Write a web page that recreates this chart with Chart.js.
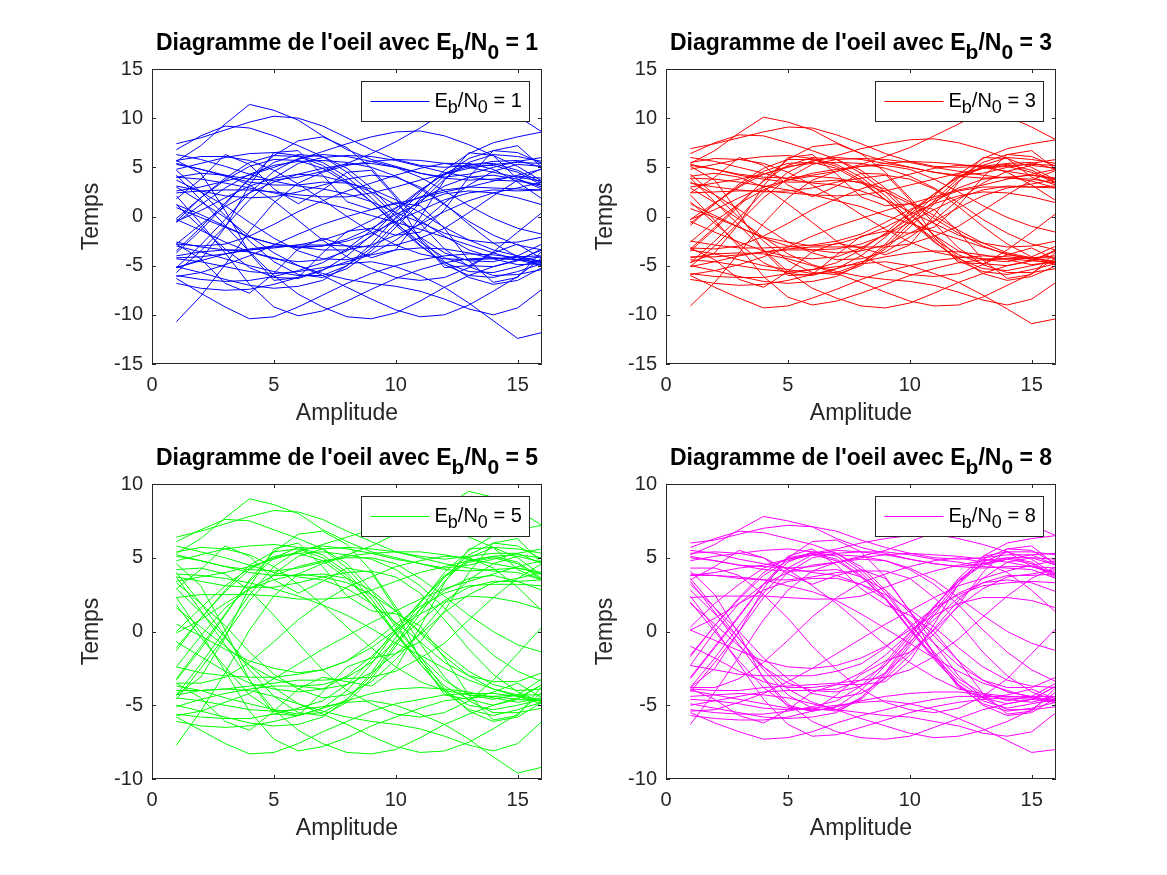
<!DOCTYPE html>
<html>
<head>
<meta charset="utf-8">
<title>Diagramme de l'oeil</title>
<script src="https://cdn.jsdelivr.net/npm/chart.js@4.4.1/dist/chart.umd.min.js"></script>
<style>
  html, body { margin: 0; padding: 0; background: #fff; }
  #figure { position: relative; width: 1167px; height: 875px; overflow: hidden; background: #fff; }
  #figure canvas { position: absolute; }
</style>
</head>
<body>
<div id="figure">
  <canvas id="plotEb1" width="583" height="437" style="left:0px;top:0px"></canvas>
  <canvas id="plotEb3" width="584" height="437" style="left:583px;top:0px"></canvas>
  <canvas id="plotEb5" width="583" height="438" style="left:0px;top:437px"></canvas>
  <canvas id="plotEb8" width="584" height="438" style="left:583px;top:437px"></canvas>
</div>
<script>
// sample index along one eye trace (x axis)
const timeSamples = [1, 2, 3, 4, 5, 6, 7, 8, 9, 10, 11, 12, 13, 14, 15, 16];
const xTicks = [0, 5, 10, 15];
const yTicksTop = [-15, -10, -5, 0, 5, 10, 15];
const yTicksBottom = [-10, -5, 0, 5, 10];
const ebn0Values = [1, 3, 5, 8];

// one row per trace
const tracesEb1 = [
  [5.6,7.2,9.4,11.4,10.8,9.8,8.2,6.8,5.8,5.1,4.4,4.0,4.3,5.0,5.6,6.0],
  [-3.7,-1.4,1.2,3.9,6.2,7.7,8.1,7.0,4.9,2.1,-0.7,-3.3,-5.1,-6.0,-5.9,-5.4],
  [4.7,2.5,0.1,-2.5,-4.6,-5.9,-6.2,-5.3,-3.5,-1.1,1.4,3.8,5.5,6.3,6.1,5.6],
  [-4.3,-4.6,-5.1,-5.6,-5.8,-5.6,-5.2,-4.8,-4.6,-5.1,-6.0,-7.2,-8.8,-10.6,-12.4,-11.8],
  [-5.2,-2.9,-0.3,2.4,4.6,5.9,6.3,6.1,5.6,5.0,4.4,3.9,3.7,3.8,4.1,3.9],
  [6.8,8.2,9.2,9.0,8.2,7.2,6.1,4.5,2.4,0.0,-2.1,-3.7,-4.5,-4.6,-4.0,-2.8],
  [-5.1,-5.7,-6.4,-7.0,-7.3,-7.1,-6.5,-5.0,-2.8,-0.1,2.4,4.7,6.4,7.5,8.1,8.6],
  [4.2,1.7,-0.9,-3.6,-6.0,-7.9,-9.2,-10.2,-10.4,-9.8,-8.6,-7.2,-6.0,-5.1,-4.4,-3.4],
  [-10.7,-8.1,-4.9,-1.5,1.4,3.4,4.5,5.2,5.6,5.8,5.7,5.4,5.0,4.5,4.0,3.6],
  [4.8,5.4,6.0,6.4,6.5,6.2,5.5,4.0,1.9,-0.6,-2.9,-4.9,-6.0,-6.2,-5.6,-4.8],
  [-3.0,-3.6,-4.3,-5.0,-5.6,-6.0,-6.0,-5.0,-3.2,-0.7,1.8,4.2,5.9,6.7,6.5,5.4],
  [1.2,-1.1,-3.3,-5.2,-6.2,-6.3,-5.5,-4.0,-1.9,0.5,2.6,4.4,5.3,5.4,4.7,3.4],
  [-4.0,-3.6,-3.4,-3.6,-4.2,-5.0,-6.0,-7.2,-8.4,-9.5,-10.2,-10.0,-9.0,-7.6,-6.1,-4.2],
  [2.6,3.0,3.6,4.2,5.0,5.8,6.6,7.4,8.1,8.6,8.7,8.2,7.3,6.2,5.1,3.6],
  [-0.2,1.9,3.7,5.1,5.8,5.7,4.9,3.4,1.5,-0.7,-2.6,-4.2,-5.0,-5.1,-4.5,-3.3],
  [2.1,-0.7,-3.7,-6.9,-9.2,-10.1,-9.6,-8.6,-7.4,-6.3,-5.4,-4.7,-4.3,-4.2,-4.4,-4.7],
  [5.3,4.8,4.2,3.8,3.7,4.0,4.6,5.4,6.4,7.6,9.0,10.6,12.2,11.6,10.2,8.6],
  [-6.3,-7.8,-9.2,-10.4,-10.2,-9.2,-8.0,-6.8,-5.8,-5.0,-4.4,-4.0,-3.8,-3.9,-4.2,-4.6],
  [0.9,-0.1,-1.1,-2.1,-2.8,-3.1,-3.0,-2.5,-1.7,-0.5,0.6,1.7,2.4,2.7,2.6,2.7],
  [-0.5,1.9,3.9,5.5,6.2,6.1,5.2,3.6,1.5,-0.9,-3.0,-4.7,-5.6,-5.7,-5.1,-4.4],
  [-5.2,-4.5,-3.8,-3.3,-3.0,-3.1,-3.4,-3.4,-2.9,-1.9,-0.8,0.5,1.6,2.4,2.9,3.5],
  [6.3,5.8,5.1,4.3,3.6,3.1,2.8,2.3,1.5,0.4,-0.6,-1.7,-2.4,-2.7,-2.6,-2.1],
  [-5.7,-3.5,-1.0,1.7,3.9,5.4,6.0,6.2,6.1,5.7,5.1,4.5,4.0,3.7,3.6,3.2],
  [3.0,1.5,-0.1,-2.0,-3.7,-5.0,-5.8,-6.4,-6.8,-7.1,-7.6,-8.4,-9.4,-10.0,-9.3,-7.4],
  [-6.0,-6.4,-6.6,-6.5,-6.1,-5.5,-4.7,-3.3,-1.4,0.8,2.7,4.3,5.1,5.2,4.5,3.2],
  [7.4,8.0,8.8,9.6,10.2,10.0,9.2,8.0,6.8,5.8,5.2,5.0,5.2,5.6,5.7,5.0],
  [-3.5,-1.1,1.4,3.8,5.5,6.3,6.1,4.9,2.9,0.3,-2.2,-4.6,-6.2,-6.9,-6.5,-5.2],
  [3.7,2.5,1.1,-0.6,-2.2,-3.5,-4.3,-4.4,-3.8,-2.4,-0.7,1.4,3.2,4.6,5.3,5.1],
  [-6.8,-7.3,-7.5,-7.4,-6.9,-6.2,-5.4,-4.6,-3.9,-3.4,-3.2,-3.3,-3.7,-4.3,-4.9,-4.8],
  [5.4,4.8,4.1,3.5,3.2,3.2,3.5,3.4,2.8,1.7,0.4,-1.1,-2.4,-3.4,-4.0,-4.6],
  [2.4,2.6,2.7,2.7,2.5,2.2,2.0,2.0,2.4,3.0,3.7,4.3,4.9,5.3,5.5,5.4],
  [-2.6,-3.1,-3.4,-3.4,-3.2,-2.9,-2.4,-1.6,-0.4,0.9,2.0,2.7,3.0,2.9,2.8,2.7],
  [-0.5,0.6,1.9,3.1,3.9,4.3,4.1,3.5,2.5,1.2,-0.4,-2.0,-3.4,-4.2,-4.4,-4.1],
  [-0.3,-1.4,-2.6,-3.6,-4.3,-4.6,-4.4,-3.5,-2.0,-0.2,1.6,3.1,4.0,4.2,3.8,3.0],
  [3.1,2.6,2.1,1.9,2.0,2.5,3.2,3.8,4.2,4.0,3.0,1.3,-0.8,-2.7,-4.1,-5.0],
  [-2.8,-0.8,1.0,2.4,3.5,4.3,4.9,5.3,5.4,5.0,4.0,2.6,1.1,-0.2,-1.2,-1.8],
  [-2.8,-3.0,-2.8,-2.0,-0.8,0.5,1.6,2.6,3.4,4.2,4.9,5.4,5.4,4.8,3.5,1.8],
  [4.0,4.4,4.2,3.2,1.6,-0.4,-2.4,-4.1,-5.3,-6.2,-6.5,-6.2,-5.2,-3.6,-1.6,0.4],
  [1.2,0.2,-1.0,-2.1,-2.8,-3.2,-3.0,-2.3,-1.2,0.2,1.4,2.3,2.6,2.4,1.9,1.2],
  [4.0,3.8,3.4,2.9,2.4,1.9,1.4,0.8,0.1,-0.6,-1.3,-2.1,-2.9,-3.7,-4.4,-5.0],
  [-4.2,-4.1,-3.8,-3.4,-3.1,-2.9,-2.9,-3.0,-3.1,-2.9,-2.2,-1.2,0.4,2.1,3.7,4.9],
  [5.7,6.1,6.1,5.7,4.7,3.3,1.7,0.0,-1.6,-2.9,-3.8,-4.3,-4.4,-4.3,-4.1,-4.0],
  [-6.1,-5.7,-4.9,-4.0,-2.9,-1.8,-0.8,0.0,0.7,1.3,1.9,2.5,3.0,3.6,4.2,4.8],
  [-0.6,1.2,2.9,4.3,5.2,5.6,5.7,5.5,5.0,4.1,2.8,1.2,-0.5,-1.9,-2.9,-3.4],
  [1.8,3.8,6.3,5.3,2.8,1.3,2.7,4.5,4.7,1.9,-2.4,-5.2,-5.0,-3.7,-2.8,-4.3],
  [-2.8,-4.3,-6.8,-7.8,-5.8,-3.3,-2.2,-3.0,-4.2,-3.4,-0.1,3.7,6.5,6.2,3.8,2.8],
  [-5.2,-4.4,-1.1,3.2,6.5,6.7,4.2,1.5,0.7,1.4,1.1,-1.2,-4.5,-6.7,-6.2,-3.5],
  [5.7,4.4,0.6,-3.7,-6.5,-6.2,-3.7,-1.5,-1.2,-1.9,-1.6,0.7,4.0,6.7,7.2,5.0]
];

const tracesEb3 = [
  [5.4,6.7,8.5,10.1,9.6,8.8,7.5,6.4,5.6,5.0,4.5,4.2,4.4,5.0,5.4,5.8],
  [-3.5,-1.3,1.1,3.7,5.8,7.1,7.4,6.4,4.5,1.9,-0.7,-3.2,-4.9,-5.7,-5.7,-5.3],
  [4.3,2.2,-0.1,-2.5,-4.5,-5.7,-5.9,-5.0,-3.3,-1.1,1.3,3.6,5.2,6.0,5.8,5.4],
  [-4.4,-4.6,-5.0,-5.4,-5.6,-5.4,-5.1,-4.8,-4.6,-5.0,-5.8,-6.7,-8.0,-9.4,-10.9,-10.4],
  [-4.7,-2.5,-0.1,2.5,4.5,5.7,6.0,5.8,5.4,5.0,4.5,4.1,3.9,4.0,4.2,3.9],
  [6.4,7.5,8.3,8.2,7.5,6.7,5.8,4.4,2.5,0.2,-1.9,-3.5,-4.4,-4.6,-4.1,-3.0],
  [-5.0,-5.5,-6.1,-6.6,-6.8,-6.6,-6.1,-4.8,-2.8,-0.3,2.1,4.3,5.9,6.9,7.4,7.8],
  [3.9,1.5,-0.9,-3.4,-5.6,-7.3,-8.3,-9.1,-9.3,-8.8,-7.8,-6.7,-5.8,-5.0,-4.5,-3.5],
  [-9.1,-6.7,-3.7,-0.7,1.9,3.7,4.6,5.1,5.4,5.6,5.5,5.3,5.0,4.6,4.2,3.8],
  [4.8,5.3,5.8,6.1,6.2,5.9,5.3,4.0,2.1,-0.3,-2.5,-4.5,-5.6,-5.9,-5.4,-4.8],
  [-3.4,-3.8,-4.4,-5.0,-5.4,-5.8,-5.7,-4.8,-3.1,-0.7,1.6,3.9,5.5,6.3,6.1,5.1],
  [1.5,-0.7,-2.8,-4.7,-5.8,-6.0,-5.3,-4.0,-2.1,0.2,2.3,4.1,5.0,5.3,4.7,3.5],
  [-4.2,-3.8,-3.7,-3.8,-4.3,-5.0,-5.8,-6.7,-7.7,-8.6,-9.1,-9.0,-8.2,-7.0,-5.8,-4.2],
  [3.0,3.4,3.8,4.3,5.0,5.6,6.2,6.9,7.4,7.8,7.9,7.5,6.8,5.9,5.0,3.7],
  [-0.7,1.3,3.1,4.6,5.4,5.5,4.9,3.5,1.7,-0.4,-2.3,-3.9,-4.8,-5.0,-4.5,-3.4],
  [2.2,-0.4,-3.1,-6.1,-8.2,-9.0,-8.6,-7.8,-6.9,-6.0,-5.3,-4.7,-4.4,-4.3,-4.5,-4.7],
  [5.2,4.8,4.3,4.0,3.9,4.2,4.6,5.3,6.1,7.0,8.2,9.4,10.7,10.2,9.1,7.8],
  [-6.0,-7.2,-8.3,-9.3,-9.1,-8.3,-7.4,-6.4,-5.6,-5.0,-4.5,-4.2,-4.0,-4.1,-4.3,-4.6],
  [1.3,0.1,-1.1,-2.2,-3.0,-3.4,-3.3,-2.8,-1.9,-0.6,0.7,1.9,2.7,3.1,3.0,3.1],
  [-0.9,1.3,3.3,4.9,5.8,5.8,5.1,3.7,1.7,-0.5,-2.6,-4.3,-5.3,-5.5,-5.0,-4.5],
  [-5.1,-4.6,-4.0,-3.6,-3.4,-3.4,-3.7,-3.5,-2.9,-1.7,-0.5,0.9,2.1,2.9,3.3,3.8],
  [6.0,5.6,5.0,4.4,3.8,3.4,3.2,2.6,1.7,0.5,-0.7,-1.9,-2.7,-3.1,-3.0,-2.5],
  [-5.1,-3.0,-0.6,1.9,3.9,5.3,5.8,5.9,5.8,5.5,5.0,4.6,4.2,3.9,3.8,3.4],
  [2.9,1.4,-0.3,-2.1,-3.8,-4.9,-5.6,-6.1,-6.4,-6.6,-7.0,-7.7,-8.5,-9.0,-8.4,-6.7],
  [-5.8,-6.1,-6.2,-6.2,-5.8,-5.4,-4.7,-3.4,-1.7,0.5,2.3,4.0,4.9,5.1,4.5,3.4],
  [6.9,7.4,8.0,8.6,9.1,9.0,8.3,7.4,6.4,5.6,5.1,5.0,5.1,5.4,5.5,4.8],
  [-3.3,-1.1,1.3,3.6,5.2,6.0,5.8,4.7,2.9,0.4,-1.9,-4.2,-5.8,-6.5,-6.1,-5.0],
  [3.5,2.2,0.7,-1.0,-2.6,-3.7,-4.4,-4.3,-3.6,-2.1,-0.4,1.7,3.4,4.6,5.2,4.9],
  [-6.4,-6.8,-7.0,-6.9,-6.5,-5.9,-5.3,-4.6,-4.1,-3.7,-3.5,-3.6,-3.9,-4.4,-4.9,-4.6],
  [5.3,4.8,4.2,3.8,3.5,3.5,3.7,3.5,2.8,1.5,0.1,-1.4,-2.7,-3.7,-4.2,-4.6],
  [2.4,2.5,2.6,2.6,2.4,2.2,2.1,2.2,2.6,3.2,3.8,4.4,4.9,5.2,5.3,5.2],
  [-2.5,-2.9,-3.2,-3.2,-3.1,-2.9,-2.5,-1.8,-0.6,0.7,1.8,2.6,3.0,3.0,3.0,2.9],
  [-0.3,0.7,1.9,3.0,3.7,4.1,3.9,3.4,2.5,1.3,-0.2,-1.7,-3.0,-3.9,-4.2,-4.0],
  [-0.5,-1.6,-2.6,-3.5,-4.1,-4.3,-4.1,-3.2,-1.8,-0.2,1.5,2.9,3.8,4.0,3.6,2.9],
  [3.4,3.0,2.7,2.5,2.6,2.9,3.5,3.9,4.2,3.8,2.8,1.0,-1.0,-2.8,-4.1,-4.9],
  [-2.6,-0.5,1.3,2.7,3.7,4.4,4.8,5.1,5.2,4.8,3.8,2.5,1.1,-0.1,-1.0,-1.6],
  [-3.2,-3.3,-3.0,-2.0,-0.7,0.7,1.8,2.8,3.6,4.3,4.9,5.2,5.2,4.5,3.2,1.6],
  [4.1,4.4,4.0,3.0,1.3,-0.6,-2.5,-4.0,-5.1,-5.9,-6.1,-5.8,-4.9,-3.4,-1.6,0.3],
  [0.8,-0.1,-1.1,-2.1,-2.6,-3.0,-2.8,-2.1,-1.1,0.2,1.3,2.1,2.5,2.4,2.0,1.4],
  [3.9,3.8,3.5,3.1,2.7,2.2,1.6,1.0,0.1,-0.7,-1.5,-2.3,-3.1,-3.8,-4.4,-4.9],
  [-4.1,-4.1,-3.9,-3.6,-3.3,-3.1,-3.1,-3.1,-3.1,-2.8,-2.0,-1.0,0.6,2.2,3.7,4.7],
  [5.5,5.9,5.8,5.4,4.5,3.2,1.8,0.2,-1.3,-2.6,-3.6,-4.1,-4.3,-4.3,-4.2,-4.2],
  [-5.9,-5.5,-4.9,-4.1,-3.1,-2.0,-1.0,-0.2,0.6,1.3,2.0,2.7,3.2,3.8,4.3,4.8],
  [-0.3,1.4,3.0,4.3,5.1,5.4,5.5,5.4,4.9,4.1,2.9,1.4,-0.3,-1.7,-2.8,-3.4],
  [2.4,4.0,6.0,5.2,3.2,2.0,3.1,4.4,4.3,1.7,-2.1,-4.7,-4.8,-3.9,-3.2,-4.4],
  [-3.2,-4.4,-6.4,-7.2,-5.6,-3.6,-2.7,-3.2,-3.9,-2.9,0.1,3.5,6.0,5.9,4.0,3.2],
  [-4.7,-3.7,-0.7,3.1,6.0,6.3,4.3,2.0,1.1,1.3,0.7,-1.5,-4.4,-6.3,-5.9,-3.6],
  [5.1,3.7,0.3,-3.5,-6.0,-5.9,-3.9,-2.0,-1.5,-1.7,-1.1,1.1,4.0,6.3,6.7,4.8]
];

const tracesEb5 = [
  [5.3,6.3,7.7,9.0,8.6,8.0,6.9,6.1,5.4,5.0,4.6,4.3,4.5,4.9,5.3,5.6],
  [-3.3,-1.2,1.1,3.5,5.4,6.6,6.8,5.9,4.1,1.7,-0.8,-3.1,-4.7,-5.5,-5.5,-5.2],
  [4.0,1.9,-0.3,-2.6,-4.4,-5.5,-5.7,-4.8,-3.2,-1.0,1.2,3.4,5.0,5.7,5.6,5.3],
  [-4.5,-4.7,-5.0,-5.3,-5.4,-5.3,-5.1,-4.8,-4.7,-5.0,-5.6,-6.3,-7.3,-8.5,-9.6,-9.2],
  [-4.3,-2.2,0.1,2.5,4.4,5.5,5.8,5.6,5.3,4.9,4.6,4.2,4.1,4.2,4.3,3.9],
  [6.1,6.9,7.6,7.5,6.9,6.3,5.6,4.3,2.5,0.3,-1.7,-3.3,-4.3,-4.6,-4.3,-3.2],
  [-5.0,-5.4,-5.8,-6.2,-6.4,-6.3,-5.8,-4.6,-2.8,-0.4,1.9,4.0,5.5,6.5,6.9,7.2],
  [3.7,1.4,-0.9,-3.3,-5.3,-6.7,-7.6,-8.2,-8.3,-8.0,-7.2,-6.3,-5.6,-5.0,-4.5,-3.6],
  [-7.7,-5.4,-2.8,0.1,2.4,3.9,4.6,5.1,5.3,5.4,5.4,5.2,4.9,4.6,4.3,4.0],
  [4.8,5.2,5.6,5.8,5.9,5.7,5.2,4.0,2.2,-0.1,-2.2,-4.1,-5.3,-5.7,-5.3,-4.8],
  [-3.7,-4.0,-4.5,-4.9,-5.3,-5.6,-5.5,-4.6,-3.0,-0.8,1.5,3.7,5.2,6.0,5.8,4.9],
  [1.8,-0.4,-2.4,-4.3,-5.4,-5.7,-5.2,-4.0,-2.2,0.0,2.0,3.8,4.8,5.1,4.7,3.6],
  [-4.3,-4.0,-3.9,-4.0,-4.4,-4.9,-5.6,-6.3,-7.1,-7.8,-8.2,-8.1,-7.5,-6.6,-5.6,-4.1],
  [3.4,3.7,4.0,4.4,4.9,5.4,5.9,6.4,6.9,7.2,7.3,6.9,6.4,5.7,5.0,3.8],
  [-1.1,0.9,2.7,4.2,5.1,5.3,4.8,3.6,1.9,-0.1,-2.0,-3.7,-4.6,-5.0,-4.6,-3.6],
  [2.3,-0.1,-2.7,-5.4,-7.3,-8.1,-7.8,-7.2,-6.4,-5.8,-5.2,-4.7,-4.5,-4.4,-4.6,-4.7],
  [5.1,4.8,4.4,4.2,4.1,4.3,4.7,5.2,5.8,6.6,7.5,8.5,9.5,9.1,8.2,7.2],
  [-5.8,-6.7,-7.6,-8.3,-8.2,-7.6,-6.8,-6.1,-5.4,-4.9,-4.6,-4.3,-4.2,-4.2,-4.4,-4.7],
  [1.6,0.3,-1.0,-2.3,-3.2,-3.7,-3.6,-3.1,-2.1,-0.7,0.7,2.1,3.0,3.4,3.4,3.5],
  [-1.3,0.9,2.8,4.5,5.4,5.6,5.0,3.8,1.9,-0.2,-2.2,-4.0,-5.0,-5.3,-5.0,-4.6],
  [-5.1,-4.6,-4.2,-3.9,-3.7,-3.7,-3.9,-3.6,-2.8,-1.5,-0.2,1.3,2.5,3.3,3.6,4.0],
  [5.8,5.4,5.0,4.5,4.0,3.7,3.5,2.9,1.9,0.6,-0.7,-2.1,-3.0,-3.4,-3.4,-2.8],
  [-4.6,-2.5,-0.3,2.1,3.9,5.1,5.6,5.7,5.6,5.4,5.0,4.6,4.3,4.1,4.0,3.5],
  [2.9,1.3,-0.4,-2.3,-3.8,-4.9,-5.4,-5.8,-6.1,-6.3,-6.6,-7.1,-7.7,-8.1,-7.6,-6.1],
  [-5.6,-5.8,-5.9,-5.9,-5.6,-5.2,-4.7,-3.6,-1.9,0.2,2.0,3.7,4.7,5.0,4.6,3.5],
  [6.4,6.8,7.3,7.8,8.2,8.1,7.6,6.8,6.1,5.4,5.1,4.9,5.1,5.3,5.3,4.6],
  [-3.2,-1.0,1.2,3.4,5.0,5.7,5.6,4.6,2.8,0.5,-1.7,-3.9,-5.4,-6.1,-5.8,-4.8],
  [3.3,1.9,0.4,-1.4,-2.9,-3.9,-4.5,-4.3,-3.4,-1.9,-0.1,1.9,3.5,4.6,5.1,4.7],
  [-6.1,-6.4,-6.5,-6.4,-6.1,-5.7,-5.2,-4.7,-4.2,-3.9,-3.8,-3.9,-4.1,-4.5,-4.8,-4.5],
  [5.2,4.8,4.4,4.0,3.8,3.8,3.9,3.6,2.8,1.4,-0.1,-1.7,-3.0,-3.9,-4.3,-4.7],
  [2.3,2.5,2.5,2.5,2.4,2.2,2.2,2.3,2.8,3.4,4.0,4.4,4.8,5.1,5.2,5.0],
  [-2.4,-2.8,-3.0,-3.1,-3.1,-2.9,-2.6,-2.0,-0.8,0.5,1.7,2.6,3.1,3.2,3.2,3.1],
  [-0.1,0.8,1.9,2.9,3.5,3.9,3.7,3.3,2.5,1.4,0.0,-1.4,-2.7,-3.6,-4.0,-3.9],
  [-0.7,-1.7,-2.7,-3.5,-3.9,-4.1,-3.9,-3.0,-1.7,-0.1,1.5,2.8,3.6,3.8,3.4,2.8],
  [3.7,3.4,3.1,3.0,3.0,3.3,3.7,4.0,4.1,3.7,2.6,0.8,-1.2,-2.9,-4.1,-4.8],
  [-2.4,-0.3,1.6,2.9,3.8,4.4,4.8,5.0,5.0,4.6,3.6,2.4,1.1,0.0,-0.9,-1.4],
  [-3.5,-3.5,-3.1,-2.1,-0.7,0.8,2.0,3.0,3.7,4.4,4.8,5.1,5.0,4.3,3.0,1.4],
  [4.2,4.3,3.9,2.8,1.1,-0.8,-2.6,-4.0,-4.9,-5.6,-5.8,-5.5,-4.7,-3.3,-1.5,0.3],
  [0.5,-0.3,-1.2,-2.0,-2.5,-2.8,-2.6,-2.0,-1.1,0.1,1.2,2.0,2.4,2.3,2.0,1.5],
  [3.9,3.8,3.6,3.3,2.9,2.4,1.8,1.1,0.2,-0.8,-1.6,-2.5,-3.3,-3.9,-4.4,-4.9],
  [-4.0,-4.0,-3.9,-3.7,-3.5,-3.3,-3.3,-3.2,-3.1,-2.7,-1.8,-0.8,0.8,2.3,3.6,4.6],
  [5.4,5.7,5.6,5.2,4.4,3.2,1.8,0.3,-1.1,-2.4,-3.4,-4.0,-4.3,-4.4,-4.3,-4.3],
  [-5.7,-5.4,-4.8,-4.2,-3.2,-2.2,-1.2,-0.3,0.6,1.4,2.2,2.9,3.4,3.9,4.4,4.8],
  [0.0,1.6,3.1,4.3,5.0,5.3,5.4,5.2,4.9,4.2,3.1,1.6,-0.1,-1.6,-2.7,-3.4],
  [2.9,4.2,5.8,5.1,3.5,2.6,3.4,4.3,4.0,1.5,-1.9,-4.3,-4.6,-4.1,-3.5,-4.5],
  [-3.5,-4.5,-6.1,-6.7,-5.4,-3.9,-3.1,-3.4,-3.7,-2.5,0.3,3.3,5.6,5.7,4.2,3.5],
  [-4.3,-3.1,-0.4,3.0,5.6,6.0,4.4,2.4,1.4,1.2,0.4,-1.8,-4.3,-6.0,-5.7,-3.7],
  [4.6,3.1,0.1,-3.3,-5.6,-5.7,-4.1,-2.4,-1.8,-1.5,-0.7,1.4,4.0,6.0,6.3,4.6]
];

const tracesEb8 = [
  [5.2,5.9,6.9,7.8,7.5,7.1,6.3,5.7,5.3,4.9,4.6,4.4,4.6,4.9,5.2,5.3],
  [-3.2,-1.1,1.0,3.2,5.0,6.1,6.2,5.4,3.7,1.4,-0.8,-3.0,-4.5,-5.3,-5.3,-5.1],
  [3.6,1.6,-0.5,-2.6,-4.3,-5.2,-5.4,-4.6,-3.1,-1.0,1.1,3.2,4.7,5.4,5.4,5.2],
  [-4.6,-4.7,-4.9,-5.2,-5.3,-5.2,-5.0,-4.8,-4.7,-4.9,-5.3,-5.9,-6.6,-7.4,-8.2,-8.0],
  [-3.8,-1.8,0.4,2.6,4.3,5.2,5.5,5.4,5.2,4.9,4.6,4.4,4.3,4.4,4.4,4.0],
  [5.7,6.3,6.8,6.7,6.3,5.9,5.3,4.2,2.6,0.5,-1.4,-3.2,-4.2,-4.7,-4.4,-3.5],
  [-4.9,-5.2,-5.5,-5.8,-5.9,-5.8,-5.5,-4.5,-2.8,-0.5,1.6,3.6,5.1,6.0,6.3,6.5],
  [3.4,1.3,-0.9,-3.1,-4.9,-6.1,-6.8,-7.2,-7.3,-7.1,-6.5,-5.9,-5.3,-4.9,-4.6,-3.7],
  [-6.3,-4.1,-1.7,0.8,2.8,4.1,4.7,5.0,5.2,5.3,5.2,5.1,4.9,4.7,4.4,4.3],
  [4.8,5.1,5.3,5.5,5.6,5.4,5.1,4.0,2.3,0.2,-1.8,-3.7,-4.9,-5.4,-5.2,-4.8],
  [-4.0,-4.3,-4.6,-4.9,-5.2,-5.3,-5.3,-4.5,-2.9,-0.8,1.3,3.4,4.9,5.6,5.5,4.6],
  [2.0,0.0,-2.0,-3.8,-5.0,-5.4,-5.1,-4.0,-2.3,-0.3,1.7,3.5,4.6,5.0,4.7,3.7],
  [-4.4,-4.3,-4.2,-4.3,-4.5,-4.9,-5.3,-5.9,-6.4,-6.9,-7.2,-7.1,-6.7,-6.1,-5.3,-4.1],
  [3.8,4.0,4.3,4.5,4.9,5.3,5.6,6.0,6.3,6.5,6.6,6.3,5.9,5.4,4.9,3.8],
  [-1.6,0.4,2.2,3.8,4.8,5.2,4.8,3.7,2.2,0.2,-1.7,-3.4,-4.5,-4.9,-4.6,-3.7],
  [2.4,0.2,-2.2,-4.6,-6.3,-7.1,-7.0,-6.5,-6.0,-5.5,-5.1,-4.8,-4.6,-4.5,-4.6,-4.8],
  [5.0,4.8,4.5,4.4,4.3,4.4,4.7,5.1,5.5,6.1,6.7,7.4,8.1,7.9,7.2,6.5],
  [-5.5,-6.2,-6.8,-7.3,-7.2,-6.8,-6.2,-5.7,-5.3,-4.9,-4.6,-4.4,-4.4,-4.4,-4.5,-4.7],
  [1.9,0.5,-1.0,-2.4,-3.5,-4.0,-3.9,-3.3,-2.3,-0.7,0.8,2.3,3.3,3.8,3.8,3.9],
  [-1.7,0.4,2.3,4.0,5.0,5.3,4.9,3.8,2.2,0.1,-1.9,-3.6,-4.7,-5.2,-4.9,-4.6],
  [-5.0,-4.7,-4.4,-4.1,-4.0,-4.0,-4.1,-3.7,-2.8,-1.4,0.1,1.7,2.9,3.7,3.9,4.2],
  [5.5,5.3,4.9,4.6,4.3,4.0,3.8,3.2,2.2,0.7,-0.8,-2.3,-3.3,-3.8,-3.8,-3.1],
  [-4.1,-2.1,0.0,2.3,4.0,5.0,5.3,5.4,5.4,5.2,4.9,4.7,4.4,4.3,4.2,3.6],
  [2.8,1.2,-0.5,-2.4,-3.9,-4.8,-5.3,-5.5,-5.7,-5.8,-6.1,-6.4,-6.9,-7.1,-6.8,-5.5],
  [-5.3,-5.5,-5.6,-5.6,-5.4,-5.1,-4.7,-3.7,-2.1,-0.1,1.7,3.4,4.5,4.9,4.6,3.6],
  [6.0,6.2,6.6,7.0,7.2,7.1,6.8,6.2,5.7,5.3,5.0,4.9,5.0,5.2,5.2,4.5],
  [-3.1,-1.0,1.1,3.2,4.7,5.4,5.3,4.4,2.8,0.6,-1.5,-3.6,-5.0,-5.7,-5.5,-4.5],
  [3.2,1.6,0.0,-1.8,-3.2,-4.2,-4.5,-4.2,-3.2,-1.6,0.2,2.1,3.6,4.7,5.0,4.5],
  [-5.7,-5.9,-6.0,-6.0,-5.8,-5.4,-5.1,-4.7,-4.4,-4.2,-4.1,-4.1,-4.3,-4.6,-4.8,-4.4],
  [5.1,4.8,4.5,4.2,4.1,4.1,4.2,3.7,2.8,1.3,-0.3,-2.0,-3.3,-4.1,-4.4,-4.7],
  [2.3,2.4,2.4,2.4,2.3,2.2,2.2,2.4,3.0,3.6,4.1,4.5,4.8,5.0,5.0,4.9],
  [-2.3,-2.6,-2.9,-3.0,-3.0,-3.0,-2.7,-2.2,-1.1,0.3,1.6,2.5,3.1,3.3,3.4,3.3],
  [0.1,0.9,1.9,2.8,3.4,3.6,3.6,3.2,2.5,1.5,0.3,-1.1,-2.4,-3.3,-3.7,-3.8],
  [-1.0,-1.8,-2.7,-3.4,-3.8,-3.8,-3.6,-2.8,-1.6,-0.1,1.4,2.6,3.3,3.5,3.3,2.7],
  [3.9,3.8,3.6,3.5,3.5,3.7,4.0,4.1,4.1,3.6,2.3,0.6,-1.4,-3.0,-4.1,-4.7],
  [-2.3,0.0,1.9,3.2,4.0,4.5,4.7,4.9,4.8,4.3,3.5,2.3,1.1,0.0,-0.8,-1.3],
  [-3.8,-3.8,-3.2,-2.1,-0.6,1.0,2.3,3.3,3.9,4.4,4.8,5.0,4.7,4.0,2.8,1.3],
  [4.3,4.3,3.8,2.5,0.9,-1.0,-2.6,-3.9,-4.8,-5.3,-5.5,-5.2,-4.4,-3.2,-1.5,0.2],
  [0.1,-0.6,-1.3,-2.0,-2.4,-2.5,-2.3,-1.8,-1.0,0.1,1.1,1.9,2.3,2.3,2.1,1.6],
  [3.8,3.8,3.7,3.5,3.1,2.7,2.1,1.2,0.2,-0.8,-1.8,-2.7,-3.5,-4.0,-4.5,-4.8],
  [-3.9,-4.0,-4.0,-3.8,-3.7,-3.6,-3.5,-3.3,-3.1,-2.6,-1.7,-0.5,1.0,2.4,3.6,4.4],
  [5.3,5.4,5.3,5.0,4.2,3.1,1.9,0.5,-0.9,-2.1,-3.1,-3.9,-4.2,-4.4,-4.4,-4.4],
  [-5.4,-5.3,-4.8,-4.2,-3.4,-2.5,-1.5,-0.5,0.5,1.4,2.3,3.1,3.6,4.1,4.5,4.8],
  [0.3,1.9,3.2,4.3,4.9,5.2,5.2,5.1,4.8,4.2,3.2,1.8,0.1,-1.4,-2.6,-3.4],
  [3.5,4.4,5.5,5.0,3.9,3.2,3.8,4.2,3.6,1.4,-1.6,-3.8,-4.5,-4.3,-3.9,-4.6],
  [-3.9,-4.6,-5.7,-6.2,-5.3,-4.1,-3.6,-3.6,-3.4,-2.0,0.5,3.2,5.1,5.4,4.4,3.9],
  [-3.8,-2.5,0.0,2.9,5.1,5.6,4.5,2.9,1.8,1.1,0.0,-2.0,-4.2,-5.6,-5.4,-3.8],
  [4.1,2.5,-0.2,-3.2,-5.1,-5.4,-4.3,-2.9,-2.0,-1.4,-0.2,1.8,4.0,5.6,5.8,4.5]
];

const FONT = '"Liberation Sans", Arial, Helvetica, sans-serif';
const INK = '#262626';

// draws text runs where some runs are subscripts (E_b/N_0)
function drawRichText(ctx, parts, x, y, mainFont, subFont, drop, align) {
    let total = 0;
    const widths = parts.map(([txt, sub]) => {
        ctx.font = sub ? subFont : mainFont;
        const w = ctx.measureText(txt).width;
        total += w;
        return w;
    });
    let cx = align === 'center' ? x - total / 2 : x;
    ctx.textBaseline = 'alphabetic';
    ctx.textAlign = 'left';
    parts.forEach(([txt, sub], i) => {
        ctx.font = sub ? subFont : mainFont;
        ctx.fillText(txt, cx, sub ? y + drop : y);
        cx += widths[i];
    });
}

function ebParts(prefix, eb) {
    return [[prefix + 'E', false], ['b', true], ['/N', false], ['0', true], [' = ' + eb, false]];
}

const eyeFramePlugin = {
    id: 'eyeFrame',
    afterDatasetsDraw(chart, args, opts) {
        const { ctx, chartArea: a } = chart;
        const xs = chart.scales.x;
        const ys = chart.scales.y;
        const L = Math.round(a.left), R = Math.round(a.right);
        const T = Math.round(a.top), B = Math.round(a.bottom);
        ctx.save();

        // axes box with inward ticks, matlab style
        ctx.strokeStyle = INK;
        ctx.lineWidth = 1;
        ctx.beginPath();
        ctx.rect(L + 0.5, T + 0.5, R - L - 1, B - T - 1);
        xs.ticks.forEach(t => {
            const px = Math.round(xs.getPixelForValue(t.value)) + 0.5;
            ctx.moveTo(px, B); ctx.lineTo(px, B - 4);
            ctx.moveTo(px, T); ctx.lineTo(px, T + 4);
        });
        ys.ticks.forEach(t => {
            const py = Math.round(ys.getPixelForValue(t.value)) + 0.5;
            ctx.moveTo(L, py); ctx.lineTo(L + 4, py);
            ctx.moveTo(R, py); ctx.lineTo(R - 4, py);
        });
        ctx.stroke();

        // legend box
        const bw = 168, bh = 40;
        const bx = R - 13 - bw + 0.5, by = T + 12 + 0.5;
        ctx.fillStyle = '#fff';
        ctx.fillRect(bx, by, bw, bh);
        ctx.strokeStyle = INK;
        ctx.strokeRect(bx, by, bw, bh);
        ctx.strokeStyle = opts.color;
        ctx.beginPath();
        ctx.moveTo(bx + 9, by + bh / 2);
        ctx.lineTo(bx + 68, by + bh / 2);
        ctx.stroke();
        ctx.fillStyle = '#000';
        drawRichText(ctx, ebParts('', opts.eb), bx + 73, by + 25,
            '20px ' + FONT, '18px ' + FONT, 6, 'left');

        // title above the axes
        ctx.fillStyle = '#000';
        drawRichText(ctx, ebParts("Diagramme de l'oeil avec ", opts.eb), (L + R) / 2, T - 19,
            'bold 23px ' + FONT, 'bold 21px ' + FONT, 9, 'center');
        ctx.restore();
    }
};

function makeEyeChart(canvasId, traces, color, eb, yTicks, pad) {
    const datasets = traces.map(row => ({
        data: row.map((v, i) => ({ x: timeSamples[i], y: v })),
        borderColor: color,
        borderWidth: 1,
        pointRadius: 0,
        fill: false,
        tension: 0
    }));

    return new Chart(document.getElementById(canvasId), {
        type: 'line',
        data: { datasets: datasets },
        options: {
            responsive: false,
            animation: false,
            devicePixelRatio: 1,
            events: [],
            layout: { padding: pad },
            scales: {
                x: {
                    type: 'linear',
                    min: 0,
                    max: 16,
                    grid: { display: false, drawTicks: false },
                    border: { display: false },
                    afterBuildTicks: s => { s.ticks = xTicks.map(v => ({ value: v })); },
                    afterFit: s => { s.height = 61; },
                    ticks: {
                        color: INK,
                        font: { family: FONT, size: 20 },
                        padding: 9,
                        maxRotation: 0,
                        autoSkip: false,
                        callback: v => String(v)
                    },
                    title: {
                        display: true,
                        text: 'Amplitude',
                        color: INK,
                        font: { family: FONT, size: 23, lineHeight: 1 },
                        padding: 0
                    }
                },
                y: {
                    type: 'linear',
                    min: yTicks[0],
                    max: yTicks[yTicks.length - 1],
                    grid: { display: false, drawTicks: false },
                    border: { display: false },
                    afterBuildTicks: s => { s.ticks = yTicks.map(v => ({ value: v })); },
                    afterFit: s => { s.width = 72; },
                    ticks: {
                        color: INK,
                        font: { family: FONT, size: 20 },
                        padding: 9,
                        autoSkip: false,
                        callback: v => String(v)
                    },
                    title: {
                        display: true,
                        text: 'Temps',
                        color: INK,
                        font: { family: FONT, size: 23, lineHeight: 1 },
                        padding: 0
                    }
                }
            },
            plugins: {
                legend: { display: false },
                tooltip: { enabled: false },
                title: { display: false },
                eyeFrame: { eb: eb, color: color }
            }
        },
        plugins: [eyeFramePlugin]
    });
}

document.addEventListener('DOMContentLoaded', () => {
    makeEyeChart('plotEb1', tracesEb1, '#0000ff', ebn0Values[0], yTicksTop,
        { left: 80, top: 69, right: 41, bottom: 12 });
    makeEyeChart('plotEb3', tracesEb3, '#ff0000', ebn0Values[1], yTicksTop,
        { left: 11, top: 69, right: 111, bottom: 12 });
    makeEyeChart('plotEb5', tracesEb5, '#00ff00', ebn0Values[2], yTicksBottom,
        { left: 80, top: 47, right: 41, bottom: 35 });
    makeEyeChart('plotEb8', tracesEb8, '#ff00ff', ebn0Values[3], yTicksBottom,
        { left: 11, top: 47, right: 111, bottom: 35 });
});
</script>
</body>
</html>
